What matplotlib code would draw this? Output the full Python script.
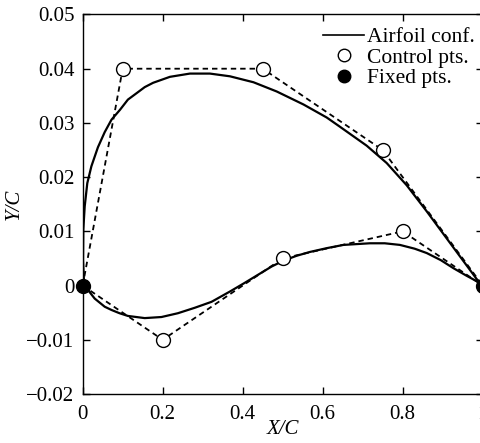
import matplotlib
matplotlib.use('Agg')
import matplotlib.pyplot as plt
from matplotlib.lines import Line2D

plt.rcParams['font.family'] = ['Liberation Serif', 'DejaVu Serif']
plt.rcParams['font.size'] = 15
plt.rcParams['axes.unicode_minus'] = True

# airfoil surfaces
upper_x = [0.003, 0.0008, 0.0015, 0.005, 0.0115, 0.0217, 0.038, 0.055, 0.072, 0.093, 0.113, 0.135,
           0.155, 0.176, 0.218, 0.268, 0.318, 0.368, 0.427, 0.485, 0.552, 0.61, 0.643, 0.71, 0.76,
           0.81, 0.86, 0.91, 0.96, 0.985, 1.0]
upper_y = [0.001, 0.0047, 0.0103, 0.0146, 0.0189, 0.022, 0.0255, 0.0283, 0.0306, 0.0324, 0.0343, 0.0355,
           0.0366, 0.0374, 0.0385, 0.0391, 0.0391, 0.0386, 0.0375, 0.0358, 0.0334, 0.031, 0.0293, 0.0258, 0.0226,
           0.0185, 0.0137, 0.0087, 0.0037, 0.0012, 0.0]
lower_x = [0.003, 0.013, 0.030, 0.055, 0.072, 0.092, 0.113, 0.155, 0.197, 0.238, 0.28, 0.322, 0.368,
           0.405, 0.443, 0.472, 0.502, 0.535, 0.568, 0.61, 0.652, 0.718, 0.755, 0.793, 0.83, 0.86,
           0.895, 0.927, 0.96, 0.99, 1.0]
lower_y = [0.001, -0.0008, -0.0024, -0.0039, -0.0045, -0.0051, -0.0056, -0.006, -0.0058, -0.0051, -0.0041, -0.003, -0.0011,
           0.0005, 0.0022, 0.0035, 0.0046, 0.0055, 0.0062, 0.0069, 0.0075, 0.0078, 0.0078, 0.0075, 0.0068, 0.006,
           0.0047, 0.0032, 0.0018, 0.0006, 0.0]

# control polygons
ctrl_up_x = [0.0, 0.1, 0.45, 0.75, 1.0]
ctrl_up_y = [0.0, 0.04, 0.04, 0.025, 0.0]
ctrl_lo_x = [0.0, 0.2, 0.5, 0.8, 1.0]
ctrl_lo_y = [0.0, -0.01, 0.005, 0.01, 0.0]
fixed_x = [0.0, 1.0]
fixed_y = [0.0, 0.0]

xticks = [0, 0.2, 0.4, 0.6, 0.8, 1.0]
xtick_labels = ['0', '0.2', '0.4', '0.6', '0.8', '1']
yticks = [-0.02, -0.01, 0, 0.01, 0.02, 0.03, 0.04, 0.05]
ytick_labels = ['\u22120.02', '\u22120.01', '0', '0.01', '0.02', '0.03', '0.04', '0.05']

fig = plt.figure(figsize=(4.8, 4.43), dpi=100)
ax = fig.add_axes([0.1723, 0.1106, 0.8333, 0.8567])

ax.plot(ctrl_up_x, ctrl_up_y, '--', color='black', lw=1.3, dashes=(3, 2.2), zorder=2)
ax.plot(ctrl_lo_x, ctrl_lo_y, '--', color='black', lw=1.3, dashes=(3, 2.2), zorder=2)
ax.plot(upper_x, upper_y, '-', color='black', lw=1.6, zorder=3, solid_joinstyle='round')
ax.plot(lower_x, lower_y, '-', color='black', lw=1.6, zorder=3, solid_joinstyle='round')
ax.plot(ctrl_up_x[1:-1], ctrl_up_y[1:-1], 'o', ms=10, mfc='white', mec='black', mew=1.0, zorder=4)
ax.plot(ctrl_lo_x[1:-1], ctrl_lo_y[1:-1], 'o', ms=10, mfc='white', mec='black', mew=1.0, zorder=4)
ax.plot(fixed_x, fixed_y, 'o', ms=10, mfc='black', mec='black', zorder=5, clip_on=False)

ax.set_xlim(0, 1)
ax.set_ylim(-0.02, 0.05)
ax.set_xticks(xticks)
ax.set_xticklabels(xtick_labels)
ax.set_yticks(yticks)
ax.set_yticklabels(ytick_labels)
ax.tick_params(direction='in', top=True, right=True, length=5, width=1, pad=6)
ax.tick_params(axis='x', pad=8)
for s in ax.spines.values():
    s.set_linewidth(1.0)

ax.set_xlabel('X/C', style='italic', labelpad=-3)
ax.set_ylabel('Y/C', style='italic', labelpad=2)

handles = [Line2D([], [], color='black', lw=1.2),
           Line2D([], [], ls='none', marker='o', ms=9, mfc='white', mec='black'),
           Line2D([], [], ls='none', marker='o', ms=9, mfc='black', mec='black')]
ax.legend(handles, ['Airfoil conf.', 'Control pts.', 'Fixed pts.'], loc='upper right',
          bbox_to_anchor=(1.013, 1.0), frameon=False, handlelength=1.9, handletextpad=0.15,
          labelspacing=0.02, borderaxespad=0.2, fontsize=15.5)

fig.savefig('out.png', dpi=100)
